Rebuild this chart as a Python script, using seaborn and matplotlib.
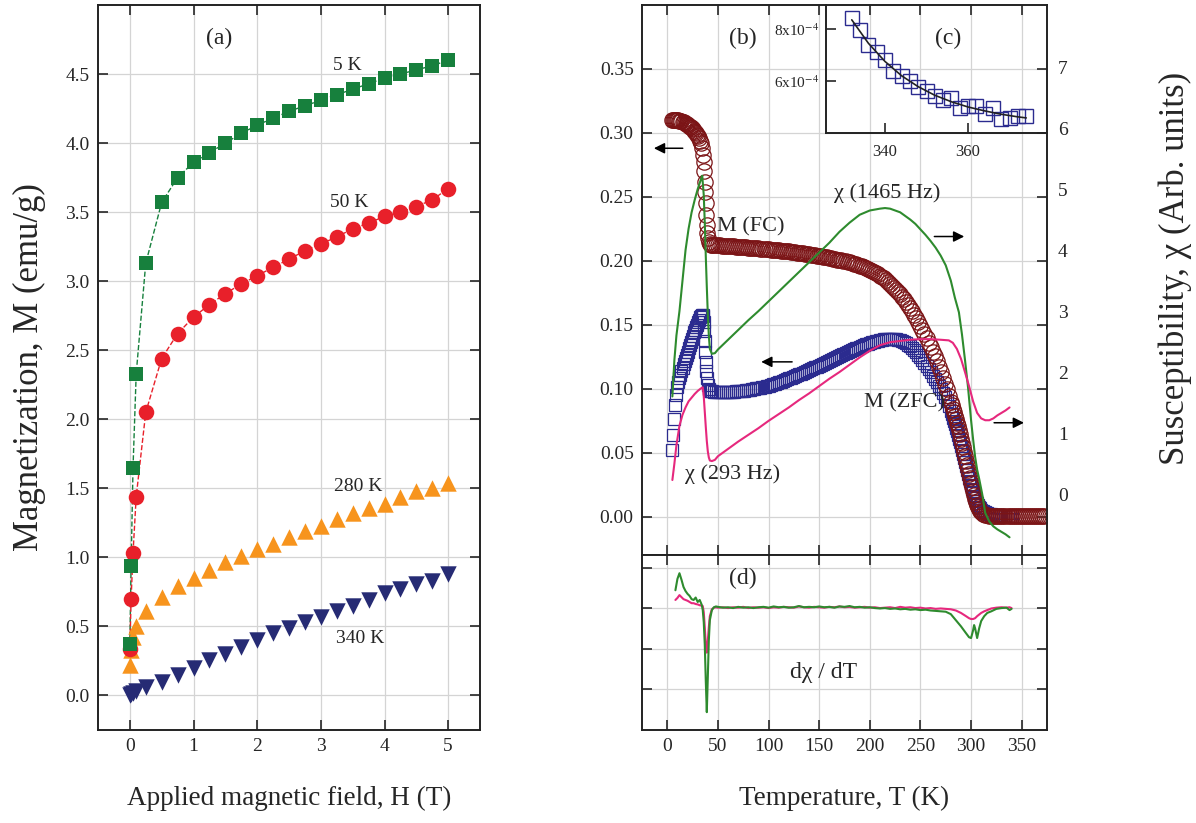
import matplotlib
matplotlib.use('Agg')
import matplotlib.pyplot as plt
import seaborn as sns

# ---------------- panel (a): M(H) isotherms ----------------
H = [0.0, 0.02, 0.05, 0.1, 0.25, 0.5, 0.75, 1.0, 1.25, 1.5, 1.75, 2.0, 2.25, 2.5,
     2.75, 3.0, 3.25, 3.5, 3.75, 4.0, 4.25, 4.5, 4.75, 5.0]
M_5K = [0.37, 0.94, 1.65, 2.33, 3.13, 3.57, 3.75, 3.86, 3.93, 4.00, 4.07, 4.13,
        4.18, 4.23, 4.27, 4.31, 4.35, 4.39, 4.43, 4.47, 4.50, 4.53, 4.56, 4.60]
M_50K = [0.34, 0.70, 1.03, 1.44, 2.05, 2.44, 2.62, 2.74, 2.83, 2.91, 2.98, 3.04,
         3.10, 3.16, 3.22, 3.27, 3.32, 3.38, 3.42, 3.47, 3.50, 3.54, 3.59, 3.67]
M_280K = [0.22, 0.33, 0.42, 0.50, 0.61, 0.71, 0.79, 0.85, 0.91, 0.97, 1.01, 1.06,
          1.10, 1.15, 1.19, 1.23, 1.28, 1.32, 1.36, 1.39, 1.44, 1.48, 1.50, 1.54]
M_340K = [0.00, 0.01, 0.02, 0.03, 0.06, 0.10, 0.15, 0.20, 0.26, 0.30, 0.35, 0.40,
          0.45, 0.49, 0.53, 0.57, 0.61, 0.65, 0.69, 0.74, 0.77, 0.81, 0.83, 0.88]

# ---------------- panel (b): M(T) field cooled ----------------
FC_T = (list(range(5, 36))
        + [36, 36.5, 37, 37.5, 38, 38.5, 39, 39.5, 40, 41, 42, 43]
        + list(range(44, 280, 2))
        + list(range(280, 311))
        + list(range(312, 373, 2)))
FC_M = [0.310, 0.310, 0.310, 0.310, 0.310, 0.310, 0.3098, 0.3096, 0.3093, 0.3090,
        0.3086, 0.3082, 0.3078, 0.3073, 0.3068, 0.3062, 0.3056, 0.3050, 0.3043,
        0.3035, 0.3027, 0.3018, 0.3008, 0.2997, 0.2985, 0.2972, 0.2958, 0.2940,
        0.2918, 0.2880, 0.2830,
        0.277, 0.270, 0.262, 0.254, 0.245, 0.236, 0.228, 0.222, 0.218, 0.215,
        0.2132, 0.2126,
        0.2124, 0.2123, 0.2122, 0.2121, 0.2120, 0.2119, 0.2118, 0.2117, 0.2116, 0.2115,
        0.2113, 0.2112, 0.2111, 0.2110, 0.2108, 0.2107, 0.2106, 0.2105, 0.2103, 0.2102,
        0.2101, 0.2100, 0.2098, 0.2097, 0.2095, 0.2094, 0.2092, 0.2091, 0.2089, 0.2088,
        0.2086, 0.2085, 0.2083, 0.2082, 0.2080, 0.2079, 0.2077, 0.2076, 0.2074, 0.2072,
        0.2070, 0.2068, 0.2065, 0.2063, 0.2060, 0.2058, 0.2055, 0.2053, 0.2050, 0.2048,
        0.2045, 0.2043, 0.2040, 0.2038, 0.2035, 0.2033, 0.2030, 0.2027, 0.2024, 0.2021,
        0.2017, 0.2014, 0.2010, 0.2007, 0.2003, 0.2000, 0.1996, 0.1992, 0.1987, 0.1983,
        0.1978, 0.1973, 0.1967, 0.1962, 0.1956, 0.1950, 0.1943, 0.1937, 0.1930, 0.1922,
        0.1914, 0.1905, 0.1895, 0.1885, 0.1874, 0.1862, 0.1849, 0.1836, 0.1822, 0.1807,
        0.1791, 0.1775, 0.1758, 0.1740, 0.1720, 0.1700, 0.1678, 0.1655, 0.1630, 0.1605,
        0.1578, 0.1550, 0.1520, 0.1490, 0.1460, 0.1428, 0.1395, 0.1361, 0.1326, 0.1290,
        0.1252, 0.1213, 0.1172, 0.1130, 0.1086, 0.1040, 0.0994, 0.0946,
        0.0895, 0.0869, 0.0843, 0.0817, 0.0790, 0.0763, 0.0735, 0.0705, 0.0675, 0.0643,
        0.0610, 0.0577, 0.0543, 0.0508, 0.0473, 0.0438, 0.0403, 0.0368, 0.0333, 0.0299,
        0.0265, 0.0232, 0.0200, 0.0170, 0.0140, 0.0115, 0.0093, 0.0074, 0.0058, 0.0045,
        0.0035,
        0.0022, 0.0015, 0.0010, 0.0008, 0.0006, 0.0005, 0.0004, 0.0004, 0.0003, 0.0003,
        0.0002, 0.0002, 0.0002, 0.0002, 0.0002, 0.0002, 0.0002, 0.0002, 0.0002, 0.0002,
        0.0002, 0.0002, 0.0002, 0.0002, 0.0002, 0.0002, 0.0002, 0.0002, 0.0002, 0.0002,
        0.0002]

# ---------------- panel (b): M(T) zero-field cooled ----------------
ZFC_T = (list(range(5, 36))
         + [35.5, 36, 36.5, 37, 37.5, 38, 38.5, 39, 40, 41, 42, 43]
         + list(range(44, 280, 2))
         + list(range(280, 311))
         + list(range(312, 341, 2)))
ZFC_M = [0.052, 0.064, 0.076, 0.087, 0.095, 0.101, 0.105, 0.108, 0.111, 0.114,
         0.1165, 0.119, 0.1215, 0.124, 0.1265, 0.129, 0.1315, 0.134, 0.1365, 0.139,
         0.1415, 0.144, 0.146, 0.148, 0.150, 0.152, 0.154, 0.156, 0.157, 0.158,
         0.158,
         0.157, 0.152, 0.145, 0.137, 0.129, 0.121, 0.114, 0.108, 0.103, 0.0995,
         0.0985, 0.098,
         0.0979, 0.0978, 0.0977, 0.0976, 0.0976, 0.0975, 0.0975, 0.0975, 0.0975, 0.0976,
         0.0977, 0.0978, 0.0979, 0.0980, 0.0982, 0.0984, 0.0986, 0.0988, 0.0990, 0.0993,
         0.0996, 0.0999, 0.1002, 0.1005, 0.1008, 0.1012, 0.1016, 0.1020, 0.1024, 0.1029,
         0.1034, 0.1039, 0.1044, 0.1050, 0.1056, 0.1062, 0.1068, 0.1074, 0.1080, 0.1087,
         0.1093, 0.1100, 0.1106, 0.1113, 0.1119, 0.1126, 0.1132, 0.1139, 0.1145, 0.1152,
         0.1159, 0.1166, 0.1173, 0.1180, 0.1187, 0.1194, 0.1201, 0.1208, 0.1215, 0.1222,
         0.1232, 0.1243, 0.1250, 0.1258, 0.1265, 0.1273, 0.1280, 0.1288, 0.1295, 0.1302,
         0.1308, 0.1315, 0.1321, 0.1328, 0.1334, 0.1340, 0.1346, 0.1352, 0.1357, 0.1363,
         0.1367, 0.1372, 0.1376, 0.1380, 0.1383, 0.1386, 0.1388, 0.1390, 0.1391, 0.1391,
         0.1390, 0.1388, 0.1384, 0.1380, 0.1374, 0.1366, 0.1356, 0.1345, 0.1332, 0.1318,
         0.1302, 0.1285, 0.1266, 0.1245, 0.1223, 0.1200, 0.1176, 0.1152, 0.1127, 0.1102,
         0.1076, 0.1050, 0.1023, 0.0995, 0.0966, 0.0935, 0.0902, 0.0865,
         0.0822, 0.0800, 0.0775, 0.0749, 0.0722, 0.0695, 0.0667, 0.0639, 0.0610, 0.0580,
         0.0550, 0.0520, 0.0490, 0.0460, 0.0430, 0.0399, 0.0367, 0.0335, 0.0305, 0.0275,
         0.0245, 0.0218, 0.0191, 0.0165, 0.0143, 0.0123, 0.0105, 0.0090, 0.0077, 0.0065,
         0.0055,
         0.0045, 0.0035, 0.0028, 0.0022, 0.0018, 0.0015, 0.0012, 0.0010, 0.0009, 0.0008,
         0.0007, 0.0006, 0.0006, 0.0005, 0.0005]

# ---------------- ac susceptibility (right axis) ----------------
chi1465_T = [5, 7, 9, 12, 15, 18, 21, 24, 27, 30, 33, 34.5, 36, 37, 38, 39, 40,
             41, 42, 44, 47, 50, 60, 70, 80, 90, 100, 110, 120, 130, 140, 150,
             160, 170, 180, 190, 200, 210, 215, 220, 230, 240, 245, 250, 255, 260,
             265, 270, 275, 280, 284, 288, 291, 294, 297, 300, 302, 304, 306, 308,
             311, 314, 318, 322, 326, 330, 334, 338]
chi1465 = [1.6, 2.2, 2.6, 3.0, 3.5, 4.0, 4.35, 4.62, 4.82, 5.0, 5.15, 5.22, 4.9,
           4.45, 3.9, 3.4, 2.95, 2.6, 2.38, 2.3, 2.31, 2.37, 2.53, 2.69, 2.85,
           3.0, 3.16, 3.32, 3.48, 3.64, 3.8, 3.96, 4.12, 4.3, 4.45, 4.58, 4.65,
           4.68, 4.69, 4.68, 4.62, 4.5, 4.43, 4.34, 4.25, 4.15, 4.04, 3.91, 3.75,
           3.5, 3.22, 2.98, 2.62, 2.2, 1.75, 1.21, 0.9, 0.61, 0.4, 0.25, 0.0,
           -0.31, -0.45, -0.53, -0.58, -0.62, -0.66, -0.71]

chi293_T = [5, 7, 9, 12, 15, 18, 21, 24, 27, 30, 33, 35, 36, 37, 38, 39, 40, 41,
            42, 44, 47, 50, 60, 70, 80, 90, 100, 110, 120, 130, 140, 150, 160,
            170, 180, 190, 200, 210, 220, 230, 240, 250, 260, 270, 278, 282, 286,
            290, 294, 298, 302, 306, 310, 314, 318, 322, 326, 330, 334, 338]
chi293 = [0.23, 0.5, 0.8, 1.12, 1.3, 1.42, 1.52, 1.58, 1.64, 1.69, 1.73, 1.75,
          1.6, 1.35, 1.1, 0.87, 0.7, 0.6, 0.55, 0.54, 0.56, 0.62, 0.74, 0.86,
          0.97, 1.08, 1.2, 1.31, 1.42, 1.54, 1.65, 1.77, 1.89, 2.0, 2.12, 2.24,
          2.35, 2.44, 2.49, 2.51, 2.53, 2.54, 2.54, 2.53, 2.52, 2.48, 2.38, 2.22,
          2.0, 1.77, 1.52, 1.33, 1.24, 1.21, 1.21, 1.24, 1.29, 1.33, 1.37, 1.42]

# ---------------- panel (c): inset ----------------
inset_T = [332, 334, 336, 338, 340, 342, 344, 346, 348, 350, 352, 354, 356, 358,
           360, 362, 364, 366, 368, 370, 372, 374]
inset_chi = [8.41e-4, 7.97e-4, 7.38e-4, 7.12e-4, 6.79e-4, 6.39e-4, 6.20e-4,
             6.00e-4, 5.78e-4, 5.60e-4, 5.41e-4, 5.28e-4, 5.34e-4, 4.95e-4,
             5.04e-4, 5.04e-4, 4.72e-4, 4.98e-4, 4.52e-4, 4.58e-4, 4.64e-4,
             4.66e-4]
fit_T = [332, 336, 340, 344, 348, 352, 356, 360, 364, 368, 372, 374]
fit_chi = [8.35e-4, 7.45e-4, 6.75e-4, 6.20e-4, 5.78e-4, 5.45e-4, 5.20e-4,
           5.00e-4, 4.85e-4, 4.72e-4, 4.62e-4, 4.58e-4]

# ---------------- panel (d): dchi/dT ----------------
d_T_low = [8, 10, 12, 14, 16, 18, 20, 22, 24, 26, 28, 30, 32, 34, 35, 36, 37, 38,
           39, 40, 41, 42, 44, 46, 48]
d_T_mid = list(range(50, 271, 5))
d_T_high = [275, 280, 285, 290, 295, 298, 300, 302, 303, 304, 306, 308, 310, 313,
            316, 320, 325, 330, 335, 338, 340]
d_T = d_T_low + d_T_mid + d_T_high
d1465 = ([0.44, 0.72, 0.86, 0.7, 0.52, 0.42, 0.35, 0.3, 0.22, 0.2, 0.26, 0.15,
          0.2, 0.08, -0.05, -0.35, -0.9, -1.8, -2.57, -1.7, -0.8, -0.3, -0.05,
          0.02, 0.04] +
         [0.03, 0.01, 0.02, 0.0, 0.03, 0.01, 0.02, 0.0, 0.02, 0.03,
          0.01, 0.04, 0.02, 0.03, 0.01, 0.02, 0.05, 0.02, 0.03, 0.02,
          0.04, 0.02, 0.03, 0.01, 0.04, 0.03, 0.05, 0.02, 0.03, 0.01,
          0.02, 0.0, -0.01, 0.0, -0.02, -0.01, -0.03, -0.02, -0.04, -0.03,
          -0.05, -0.04, -0.06, -0.07, -0.08] +
         [-0.09, -0.15, -0.3, -0.45, -0.62, -0.72, -0.74, -0.55, -0.42, -0.5,
          -0.74, -0.5, -0.32, -0.2, -0.12, -0.08, -0.02, 0.0, 0.01, -0.05, -0.02])
d293 = ([0.2, 0.25, 0.32, 0.27, 0.22, 0.2, 0.18, 0.15, 0.12, 0.12, 0.1, 0.09,
         0.07, 0.06, 0.05, -0.1, -0.47, -0.9, -1.1, -0.8, -0.47, -0.2, -0.03,
         0.01, 0.02] +
        [0.01, 0.02, 0.0, 0.02, 0.01, 0.03, 0.0, 0.02, 0.01, 0.02,
         0.0, 0.02, 0.01, 0.03, 0.02, 0.01, 0.04, 0.02, 0.01, 0.03,
         0.02, 0.01, 0.03, 0.02, 0.04, 0.02, 0.03, 0.01, 0.02, 0.03,
         0.01, 0.02, 0.0, 0.01, 0.02, 0.0, 0.03, 0.01, 0.02, 0.0,
         0.01, -0.01, 0.0, -0.02, -0.01] +
        [-0.02, -0.03, -0.06, -0.12, -0.2, -0.25, -0.27, -0.27, -0.26, -0.25,
         -0.2, -0.16, -0.12, -0.08, -0.05, -0.01, 0.01, 0.02, 0.01, 0.02, 0.0])

# colours
c_green = '#17803d'
c_red = '#e8202a'
c_orange = '#f7941d'
c_navy = '#262b74'
c_fc = '#7b1416'
c_zfc = '#2b2b8f'
c_chi1 = '#2e8b2e'
c_chi2 = '#e6287d'
grid_c = '#d4d4d4'

sns.set_style('ticks')
plt.rcParams['font.family'] = ['Liberation Serif', 'DejaVu Serif']
plt.rcParams['mathtext.fontset'] = 'stix'

fig = plt.figure(figsize=(11.96, 8.23), dpi=100)
W, Hpx = 1196.0, 823.0


def rect(l, t, r, b):
    return [l / W, 1 - b / Hpx, (r - l) / W, (b - t) / Hpx]


def style(ax):
    ax.tick_params(direction='in', length=7, width=1.2, labelsize=14,
                   top=True, right=True, pad=6)
    for s in ax.spines.values():
        s.set_linewidth(1.4)
        s.set_color('#222222')
    ax.grid(True, color=grid_c, lw=0.9)
    ax.set_axisbelow(True)


ax_a = fig.add_axes(rect(98, 5, 480, 730))
ax_b = fig.add_axes(rect(642, 5, 1047, 555))
ax_d = fig.add_axes(rect(642, 555, 1047, 730))

# ---- (a)
style(ax_a)
sns.lineplot(x=H, y=M_5K, ax=ax_a, color=c_green, lw=1, linestyle='--',
             estimator=None, sort=False)
sns.lineplot(x=H, y=M_50K, ax=ax_a, color=c_red, lw=1, linestyle='--',
             estimator=None, sort=False)
sns.scatterplot(x=H, y=M_340K, ax=ax_a, marker='v', s=140, color=c_navy,
                linewidth=0, zorder=3)
sns.scatterplot(x=H, y=M_280K, ax=ax_a, marker='^', s=140, color=c_orange,
                linewidth=0, zorder=3)
sns.scatterplot(x=H, y=M_50K, ax=ax_a, marker='o', s=125, color=c_red,
                linewidth=0, zorder=4)
sns.scatterplot(x=H, y=M_5K, ax=ax_a, marker='s', s=100, color=c_green,
                linewidth=0, zorder=5)
ax_a.set_xlim(-0.5, 5.5)
ax_a.set_ylim(-0.25, 5.0)
ax_a.set_xticks([0, 1, 2, 3, 4, 5])
ax_a.set_yticks([0.0, 0.5, 1.0, 1.5, 2.0, 2.5, 3.0, 3.5, 4.0, 4.5])
ax_a.set_yticklabels(['%.1f' % v for v in ax_a.get_yticks()])
ax_a.set_xlabel('Applied magnetic field, H (T)', fontsize=19.5, labelpad=22)
ax_a.set_ylabel('Magnetization, M (emu/g)', fontsize=25, labelpad=14)
ax_a.text(1.40, 4.76, '(a)', fontsize=17, ha='center', va='center')
ax_a.text(3.41, 4.56, '5 K', fontsize=14, ha='center', va='center')
ax_a.text(3.44, 3.57, '50 K', fontsize=14, ha='center', va='center')
ax_a.text(3.59, 1.51, '280 K', fontsize=14, ha='center', va='center')
ax_a.text(3.62, 0.41, '340 K', fontsize=14, ha='center', va='center')

# ---- (b)
style(ax_b)
sns.lineplot(x=ZFC_T, y=ZFC_M, ax=ax_b, marker='s', linestyle='', markersize=9,
             markerfacecolor='none', markeredgecolor=c_zfc, markeredgewidth=0.9,
             estimator=None, sort=False)
sns.lineplot(x=FC_T, y=FC_M, ax=ax_b, marker='o', linestyle='', markersize=11,
             markerfacecolor='none', markeredgecolor=c_fc, markeredgewidth=0.9,
             estimator=None, sort=False)
ax_b.set_xlim(-25, 375)
ax_b.set_ylim(-0.03, 0.40)
ax_b.set_xticks(range(0, 351, 50))
ax_b.set_yticks([0.0, 0.05, 0.10, 0.15, 0.20, 0.25, 0.30, 0.35])
ax_b.set_yticklabels(['%.2f' % v for v in ax_b.get_yticks()])
ax_b.set_xlabel('')
ax_b.set_ylabel('')

ax_b2 = ax_b.twinx()
sns.lineplot(x=chi1465_T, y=chi1465, ax=ax_b2, color=c_chi1, lw=1.5,
             estimator=None, sort=False)
sns.lineplot(x=chi293_T, y=chi293, ax=ax_b2, color=c_chi2, lw=1.5,
             estimator=None, sort=False)
ax_b2.set_ylim(-1.0, 8.02)
ax_b2.set_yticks(range(0, 8))
ax_b2.tick_params(axis='y', length=0, labelsize=14, pad=8)
ax_b2.set_ylabel('')
for s in ax_b2.spines.values():
    s.set_visible(False)
ax_b.tick_params(axis='y', right=True, labelright=False, left=True)
ax_b.tick_params(axis='x', labelbottom=False, bottom=True, top=True)

ax_b.text(75, 0.374, '(b)', fontsize=17, ha='center', va='center')
ax_b.text(82, 0.2266, 'M (FC)', fontsize=16, ha='center', va='center')
ax_b.text(217, 0.253, 'χ (1465 Hz)', fontsize=16, ha='center', va='center')
ax_b.text(234, 0.089, 'M (ZFC)', fontsize=16, ha='center', va='center')
ax_b.text(64, 0.033, 'χ (293 Hz)', fontsize=16, ha='center', va='center')
arr = dict(arrowstyle='-|>', color='k', lw=1.1, mutation_scale=16)
ax_b.annotate('', xy=(-16, 0.288), xytext=(18, 0.288), arrowprops=arr)
ax_b.annotate('', xy=(90, 0.121), xytext=(126, 0.121), arrowprops=arr)
ax_b.annotate('', xy=(296, 0.219), xytext=(261, 0.219), arrowprops=arr)
ax_b.annotate('', xy=(355, 0.0734), xytext=(320, 0.0734), arrowprops=arr)

fig.text(1175 / W, 1 - 268 / Hpx, 'Susceptibility, χ (Arb. units)', fontsize=25,
         rotation=90, ha='center', va='center')

# ---- (c) inset
ax_c = fig.add_axes(rect(826, 5, 1047, 133))
ax_c.set_facecolor('none')
ax_c.set_zorder(5)
sns.lineplot(x=inset_T, y=inset_chi, ax=ax_c, marker='s', linestyle='',
             markersize=10, markerfacecolor='none', markeredgecolor=c_zfc,
             markeredgewidth=1, estimator=None, sort=False)
sns.lineplot(x=fit_T, y=fit_chi, ax=ax_c, color='#222222', lw=1.2,
             estimator=None, sort=False)
ax_c.set_xlim(325.8, 379)
ax_c.set_ylim(4.0e-4, 8.92e-4)
ax_c.set_xticks([340, 360])
ax_c.set_yticks([6e-4, 8e-4])
ax_c.set_yticklabels(['6x10$^{-4}$', '8x10$^{-4}$'])
ax_c.tick_params(direction='in', length=7, width=1.2, labelsize=12, pad=8)
ax_c.tick_params(axis='y', labelsize=11, pad=5)
ax_c.spines['top'].set_visible(False)
ax_c.spines['right'].set_visible(False)
for s in ['left', 'bottom']:
    ax_c.spines[s].set_linewidth(1.4)
    ax_c.spines[s].set_color('#222222')
ax_c.set_xlabel('')
ax_c.set_ylabel('')
ax_b.text(277, 0.374, '(c)', fontsize=17, ha='center', va='center')

# ---- (d)
style(ax_d)
sns.lineplot(x=d_T, y=d293, ax=ax_d, color=c_chi2, lw=1.5, estimator=None,
             sort=False)
sns.lineplot(x=d_T, y=d1465, ax=ax_d, color=c_chi1, lw=1.5, estimator=None,
             sort=False)
ax_d.set_xlim(-25, 375)
ax_d.set_ylim(-3.01, 1.31)
ax_d.set_xticks(range(0, 351, 50))
ax_d.set_yticks([-2, -1, 0, 1])
ax_d.tick_params(axis='y', labelleft=False)
ax_d.set_ylabel('')
ax_d.set_xlabel('Temperature, T (K)', fontsize=19.5, labelpad=22)
ax_d.text(75, 0.74, '(d)', fontsize=17, ha='center', va='center')
ax_d.text(154, -1.58, 'dχ / dT', fontsize=17, ha='center', va='center')

fig.savefig('out.png', dpi=100)
